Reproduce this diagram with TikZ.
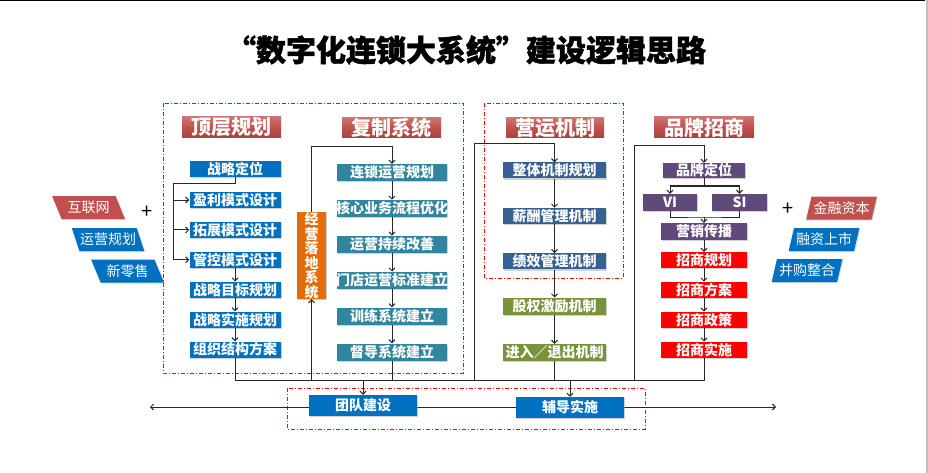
\documentclass[tikz,border=0pt]{standalone}
\usepackage{fontspec}
\setmainfont{Noto Sans CJK SC}
\newfontfamily\titlefont{Noto Sans CJK SC}[BoldFeatures={FakeBold=1.5}]
\usepackage{tikz}
\usetikzlibrary{arrows.meta, positioning, shapes.geometric, shadows}

\definecolor{hdred}{RGB}{192,80,77}
\definecolor{topblue}{RGB}{0,112,192}
\definecolor{copyteal}{RGB}{49,133,156}
\definecolor{opblue}{RGB}{55,96,146}
\definecolor{opgreen}{RGB}{119,147,60}
\definecolor{brandpurple}{RGB}{96,74,123}
\definecolor{landorange}{RGB}{228,108,10}

\begin{document}
\begin{tikzpicture}[x=1pt, y=-1pt,
    modbox/.style={rectangle, inner sep=0pt, minimum height=16pt, text=white, font=\fontsize{14}{14}\selectfont\bfseries, drop shadow={shadow xshift=1.2pt, shadow yshift=-1.2pt, fill=black!35}},
    topbox/.style={modbox, fill=topblue, minimum width=91pt},
    copybox/.style={modbox, fill=copyteal, minimum width=110pt, minimum height=17pt},
    landbox/.style={modbox, fill=landorange, minimum width=29pt, minimum height=87pt, align=center, font=\fontsize{14}{14.5}\selectfont\bfseries},
    opbox/.style={modbox, fill=opblue, minimum width=103pt},
    sharebox/.style={modbox, fill=opgreen, minimum width=103pt, minimum height=17pt},
    brandbox/.style={modbox, fill=brandpurple, minimum width=86pt, minimum height=17pt},
    bizbox/.style={modbox, fill=red, minimum width=86pt},
    basebox/.style={modbox, fill=topblue, minimum width=108pt, minimum height=21pt},
    headbox/.style={rectangle, inner sep=0pt, minimum width=99pt, minimum height=21pt, text=white, font=\fontsize{20}{20}\selectfont\bfseries, top color=hdred!80!white, bottom color=hdred!85!black, middle color=hdred},
    slantL/.style={trapezium, trapezium left angle=120, trapezium right angle=60, trapezium stretches=true, minimum width=73pt, minimum height=23pt, inner sep=0pt, text=white, font=\fontsize{14}{14}\selectfont, drop shadow={shadow xshift=1pt, shadow yshift=-1pt, fill=black!30}},
    slantR/.style={slantL, trapezium left angle=69, trapezium right angle=111, minimum width=71pt},
    zone/.style={red, line width=0.8pt, dash pattern=on 4pt off 2pt on 1pt off 2pt},
    conn/.style={black!85, line width=1pt},
    arr/.style={conn, -{Straight Barb[length=3pt, width=6pt]}}]
    \useasboundingbox (0,0) rectangle (928,473);
    % Slide edges
    \draw[line width=1.5pt] (0,0.75) -- (925,0.75);
    \fill[black!25] (925.5,0) rectangle (928,473);
    % Title
    \node[font=\titlefont\fontsize{30}{30}\selectfont\bfseries] (title) at (466,50) {“数字化连锁大系统”建设逻辑思路};
    % Inputs left and right
    \node[slantL, fill=hdred] (net) at (88.5,207.5) {互联网};
    \node[slantL, fill=topblue] (oplan) at (108,239.5) {运营规划};
    \node[slantL, fill=topblue] (retail) at (127.5,271) {新零售};
    \node[font=\fontsize{20}{20}\selectfont] (plusL) at (147,212) {+};
    \node[slantR, fill=hdred] (fin) at (841.5,208) {金融资本};
    \node[slantR, fill=topblue] (ipo) at (824,239.5) {融资上市};
    \node[slantR, fill=topblue] (mna) at (807,270.5) {并购整合};
    \node[font=\fontsize{20}{20}\selectfont] (plusR) at (788,209) {+};
    % Zones
    \draw[zone] (163,103) rectangle (463,373);
    \draw[zone] (484,103) rectangle (623,278);
    \draw[zone] (287,388) rectangle (645,429);
    % Column 1: top-level planning
    \node[headbox] (h1) at (231.5,127.5) {顶层规划};
    \node[topbox] (t1) at (235,169) {战略定位};
    \node[topbox] (t2) at (235,200) {盈利模式设计};
    \node[topbox, below=13.5pt of t2] (t3) {拓展模式设计};
    \node[topbox, below=13.5pt of t3] (t4) {管控模式设计};
    \node[topbox, below=13.5pt of t4] (t5) {战略目标规划};
    \node[topbox, below=13.5pt of t5] (t6) {战略实施规划};
    \node[topbox, below=13.5pt of t6] (t7) {组织结构方案};
    % Column 2: replication system
    \node[headbox, minimum height=20pt] (h2) at (391.5,128) {复制系统};
    \node[copybox] (f1) at (392,172.5) {连锁运营规划};
    \node[copybox, below=18.5pt of f1] (f2) {\makebox[110pt]{核心业务流程优化}};
    \node[copybox, below=18.5pt of f2] (f3) {运营持续改善};
    \node[copybox, below=18.5pt of f3] (f4) {\makebox[110pt]{门店运营标准建立}};
    \node[copybox, below=18.5pt of f4] (f5) {训练系统建立};
    \node[copybox, below=18.5pt of f5] (f6) {督导系统建立};
    \node[landbox] (land) at (311.5,255.5) {经\\营\\落\\地\\系\\统};
    % Column 3: operating mechanism
    \node[headbox, minimum height=20pt, minimum width=98pt] (h3) at (555,128) {营运机制};
    \node[opbox] (y1) at (554.5,170.5) {整体机制规划};
    \node[opbox, below=29pt of y1] (y2) {薪酬管理机制};
    \node[opbox, below=29pt of y2] (y3) {绩效管理机制};
    \node[sharebox, below=28pt of y3] (y4) {股权激励机制};
    \node[sharebox, below=29pt of y4] (y5) {进入／退出机制};
    % Column 4: brand and franchising
    \node[headbox, minimum width=100pt] (h4) at (704,127.5) {品牌招商};
    \node[brandbox, minimum width=82pt, minimum height=15pt] (b1) at (704,170.5) {品牌定位};
    \node[brandbox, minimum width=54pt] (vi) at (670,202.5) {VI};
    \node[brandbox, minimum width=55pt] (si) at (739.5,202.5) {SI};
    \node[brandbox] (b2) at (704,231.5) {营销传播};
    \node[bizbox] (b3) at (704,260) {招商规划};
    \node[bizbox, below=13.5pt of b3] (b4) {招商方案};
    \node[bizbox, below=13.5pt of b4] (b5) {招商政策};
    \node[bizbox, below=13.5pt of b5] (b6) {招商实施};
    % Base line
    \coordinate (bus) at (470,380);
    \coordinate (axL) at (150,407);
    \coordinate (axR) at (776,407);
    \draw[conn, {Straight Barb[length=3pt, width=6pt]}-{Straight Barb[length=3pt, width=6pt]}] (axL) -- (axR);
    \node[basebox] (team) at (363,405.5) {团队建设};
    \node[basebox] (coach) at (570,407.5) {辅导实施};
    % Arrows column 1
    \coordinate (s1) at (173,184);
    \draw[conn] (t1.south) |- (s1) -- (s1 |- t4.west);
    \foreach \n in {t2,t3,t4} \draw[arr] (s1 |- \n.west) -- (\n.west);
    \draw[arr] (t4) -- (t5); \draw[arr] (t5) -- (t6); \draw[arr] (t6) -- (t7);
    \draw[conn] (t7.south) -- (t7.south |- bus) -- (b6.south |- bus) -- (b6.south);
    % Arrows column 2
    \coordinate (s2) at (392,147);
    \draw[arr] (land.south |- bus) -- (land.south);
    \draw[arr] (land.north) |- (s2) -- (f1.north);
    \foreach \a/\b in {f1/f2,f2/f3,f3/f4,f4/f5,f5/f6} \draw[arr] (\a) -- (\b);
    \draw[conn] (f6.south) -- (f6.south |- bus);
    % Arrows column 3
    \coordinate (s3) at (474,144);
    \draw[arr] (s3 |- bus) -- (s3) -| (y1.north);
    \foreach \a/\b in {y1/y2,y2/y3,y3/y4,y4/y5} \draw[arr] (\a) -- (\b);
    \draw[conn] (y5.south) -- (y5.south |- bus);
    % Arrows column 4
    \coordinate (s4) at (634,146);
    \draw[arr] (s4 |- bus) -- (s4) -| (b1.north);
    \coordinate (s5) at (704,186);
    \coordinate (s6) at (704,217);
    \draw[conn] (b1.south) -- (s5);
    \draw[arr] (s5) -| (vi.north); \draw[arr] (s5) -| (si.north);
    \draw[conn] (vi.south) |- (s6) -| (si.south);
    \draw[arr] (s6) -- (b2.north);
    \foreach \a/\b in {b2/b3,b3/b4,b4/b5,b5/b6} \draw[arr] (\a) -- (\b);
    % Arrows to base
    \draw[arr] (team.north |- bus) -- (team.north);
    \draw[arr] (coach.north |- bus) -- (coach.north);
\end{tikzpicture}
\end{document}
